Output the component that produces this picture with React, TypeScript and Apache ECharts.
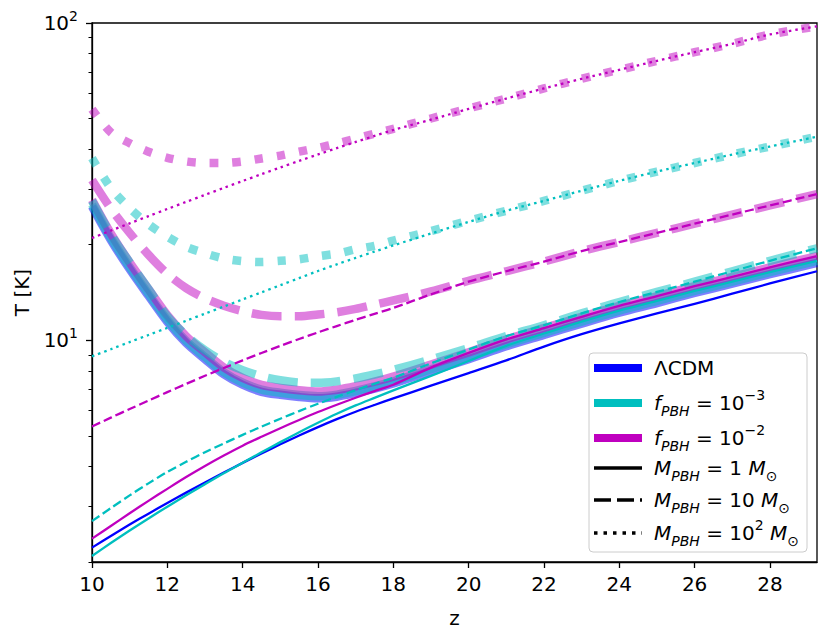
import React, { useEffect, useRef } from 'react';
import * as echarts from 'echarts';

// redshift grid
const zGrid = [10, 10.5, 11, 11.5, 12, 12.5, 13, 13.5, 14, 14.5, 15, 15.5, 16, 16.5, 17, 17.5, 18, 19, 20, 21, 22, 23, 24, 25, 26, 27, 28, 29.25];

// thick curves
const thickLCDM = [26.4, 20.7, 16.75, 13.8, 11.43, 9.8, 8.72, 7.81, 7.24, 6.88, 6.73, 6.62, 6.56, 6.64, 6.82, 7.04, 7.31, 7.98, 8.72, 9.57, 10.39, 11.28, 12.21, 13.1, 14.09, 15.07, 16.15, 17.53];
const thickF3M1 = [26.8, 21.0, 17.0, 14.0, 11.6, 9.95, 8.85, 7.93, 7.35, 6.99, 6.83, 6.72, 6.66, 6.74, 6.92, 7.15, 7.42, 8.1, 8.85, 9.72, 10.55, 11.45, 12.4, 13.3, 14.3, 15.3, 16.4, 17.8];
const thickF2M1 = [27.7, 21.7, 17.6, 14.5, 12.0, 10.3, 9.16, 8.21, 7.61, 7.23, 7.07, 6.96, 6.89, 6.98, 7.16, 7.4, 7.68, 8.38, 9.16, 10.06, 10.92, 11.85, 12.83, 13.77, 14.8, 15.84, 16.97, 18.42];
const thickF3M10 = [27.5, 21.6, 17.6, 14.5, 11.9, 10.35, 9.3, 8.55, 8.05, 7.7, 7.48, 7.36, 7.34, 7.42, 7.58, 7.8, 8.06, 8.7, 9.45, 10.3, 11.15, 12.15, 13.2, 14.2, 15.3, 16.5, 17.8, 19.5];
const thickF2M10 = [32.0, 26.0, 21.8, 18.6, 16.2, 14.6, 13.55, 12.85, 12.35, 12.02, 11.9, 11.9, 12.05, 12.25, 12.55, 12.95, 13.35, 14.25, 15.4, 16.5, 17.7, 19.1, 20.4, 21.8, 23.3, 24.9, 26.6, 28.9];
const thickF3M100 = [37.5, 30.2, 26.1, 23.2, 21.2, 19.7, 18.8, 18.1, 17.75, 17.65, 17.8, 18.0, 18.4, 18.75, 19.35, 19.85, 20.6, 22.1, 23.8, 25.6, 27.5, 29.6, 31.8, 34.0, 36.2, 38.5, 40.8, 43.8];
const thickF2M100 = [53.5, 45.2, 41.8, 39.3, 37.6, 36.6, 36.2, 36.2, 36.6, 37.4, 38.2, 39.3, 40.4, 41.7, 43.2, 44.8, 46.4, 50.0, 53.8, 57.8, 62.2, 66.7, 71.2, 76.0, 80.9, 86.0, 92.0, 97.6];

// thin curves
const thinLCDM = [2.22, 2.417, 2.624, 2.841, 3.068, 3.309, 3.562, 3.828, 4.107, 4.398, 4.699, 5.011, 5.325, 5.64, 5.952, 6.252, 6.555, 7.19, 7.88, 8.64, 9.55, 10.45, 11.3, 12.15, 13.02, 14.02, 15.1, 16.5];
const thinF3M1 = [2.09, 2.296, 2.514, 2.744, 2.988, 3.246, 3.519, 3.809, 4.107, 4.433, 4.774, 5.131, 5.495, 5.866, 6.232, 6.583, 6.948, 7.72, 8.6, 9.6, 10.5, 11.45, 12.4, 13.3, 14.3, 15.3, 16.4, 17.8];
const thinF2M1 = [2.37, 2.598, 2.849, 3.117, 3.401, 3.705, 4.015, 4.332, 4.653, 4.963, 5.281, 5.607, 5.939, 6.262, 6.588, 6.915, 7.24, 8.2, 9.12, 10.06, 10.92, 11.85, 12.83, 13.77, 14.8, 15.84, 16.97, 18.42];
const thinF3M10 = [2.69, 2.957, 3.243, 3.539, 3.845, 4.138, 4.435, 4.729, 5.032, 5.343, 5.659, 5.981, 6.306, 6.633, 6.962, 7.29, 7.616, 8.45, 9.35, 10.3, 11.15, 12.15, 13.2, 14.2, 15.3, 16.5, 17.8, 19.5];
const thinF2M10 = [5.35, 5.702, 6.069, 6.457, 6.861, 7.285, 7.725, 8.178, 8.643, 9.118, 9.601, 10.09, 10.585, 11.086, 11.595, 12.11, 12.64, 13.95, 15.3, 16.5, 17.7, 19.1, 20.4, 21.8, 23.3, 24.9, 26.6, 28.9];
const thinF3M100 = [8.9, 9.37, 9.87, 10.39, 10.94, 11.52, 12.13, 12.77, 13.45, 14.16, 14.91, 15.7, 16.53, 17.35, 18.18, 19.03, 19.9, 21.7, 23.6, 25.6, 27.5, 29.6, 31.8, 34.0, 36.2, 38.5, 40.8, 43.8];
const thinF2M100 = [21.0, 22.16, 23.36, 24.62, 25.93, 27.3, 28.73, 30.22, 31.77, 33.38, 35.05, 36.76, 38.52, 40.32, 42.17, 44.07, 46.0, 49.6, 53.6, 57.8, 62.2, 66.7, 71.2, 76.0, 80.9, 86.0, 92.0, 97.6];

// axis ticks
const xTicks = [10, 12, 14, 16, 18, 20, 22, 24, 26, 28];
const yMajor = [10, 100];
const yMinor = [2, 3, 4, 5, 6, 7, 8, 9, 20, 30, 40, 50, 60, 70, 80, 90];
const Y_MIN = 2;
const Y_MAX = 100;
const X_MIN = 10;
const X_MAX = 29.25;

const FONT = 'DejaVu Sans';
const BLUE = '#0000ff';
const CYAN = '#00bfbf';
const MAG = '#bf00bf';

const TW = 8.5;
const NW = 2.3;
const DASH_THICK = [30, 13];
const DOT_THICK = [8.5, 14];
const DASH_THIN = [9, 4];
const DOT_THIN = [2.5, 4];

function pairs(vals: number[]) {
  return zGrid.map((z, i) => [z, Math.log10(vals[i])]);
}

function line(name: string, vals: number[], color: string, width: number, type: any, opacity: number) {
  return {
    name,
    type: 'line',
    data: pairs(vals),
    showSymbol: false,
    symbol: 'none',
    smooth: 0.3,
    silent: true,
    lineStyle: { color, width, type, opacity, cap: 'butt', join: 'round' },
  };
}

const LEG_X = 589;
const LEG_Y = 353;
const rowY = [368, 403, 438, 468, 500, 533];
const legendTexts = [
  '{n|ΛCDM}',
  '{i|f}{s|PBH}{n| = 10}{p|−3}',
  '{i|f}{s|PBH}{n| = 10}{p|−2}',
  '{i|M}{s|PBH}{n| = 1 }{i|M}{s|⊙}',
  '{i|M}{s|PBH}{n| = 10 }{i|M}{s|⊙}',
  '{i|M}{s|PBH}{n| = 10}{p|2}{n| }{i|M}{s|⊙}',
];
const legendRich = {
  n: { fontSize: 20, fontFamily: FONT, lineHeight: 30, verticalAlign: 'middle', fill: '#000' },
  i: { fontSize: 20, fontFamily: FONT, fontStyle: 'italic', lineHeight: 30, verticalAlign: 'middle', fill: '#000' },
  s: { fontSize: 14, fontFamily: FONT, fontStyle: 'italic', lineHeight: 14, verticalAlign: 'bottom', fill: '#000' },
  p: { fontSize: 14, fontFamily: FONT, lineHeight: 14, verticalAlign: 'top', fill: '#000' },
};

function buildGraphic() {
  const els: any[] = [];
  els.push({
    type: 'rect',
    z: 100,
    shape: { x: LEG_X, y: LEG_Y, width: 218, height: 199, r: 4 },
    style: { fill: 'rgba(255,255,255,0.8)', stroke: '#cccccc', lineWidth: 1 },
  });
  const handles = [
    { color: BLUE, w: 8, dash: null },
    { color: CYAN, w: 8, dash: null },
    { color: MAG, w: 8, dash: null },
    { color: '#000', w: 3.5, dash: null },
    { color: '#000', w: 3.5, dash: [17, 6] },
    { color: '#000', w: 3.5, dash: [3.5, 6] },
  ];
  handles.forEach((h, k) => {
    els.push({
      type: 'line',
      z: 101,
      shape: { x1: 594, y1: rowY[k], x2: 642, y2: rowY[k] },
      style: { stroke: h.color, lineWidth: h.w, lineDash: h.dash || undefined, lineCap: 'butt' },
    });
    els.push({
      type: 'text',
      z: 101,
      x: 654,
      y: rowY[k],
      style: {
        text: legendTexts[k],
        rich: legendRich,
        fontSize: 20,
        fontFamily: FONT,
        fill: '#000',
        align: 'left',
        verticalAlign: 'middle',
      },
    });
  });
  return els;
}

export default function App() {
  const ref = useRef<HTMLDivElement>(null);
  useEffect(() => {
    const chart = echarts.init(ref.current!, undefined, { renderer: 'svg', width: 831, height: 639 });
    const series = [
      line('thickLCDM', thickLCDM, BLUE, TW, 'solid', 0.5),
      line('thickF3M1', thickF3M1, CYAN, TW, 'solid', 0.5),
      line('thickF2M1', thickF2M1, MAG, TW, 'solid', 0.5),
      line('thickF3M10', thickF3M10, CYAN, TW, DASH_THICK, 0.5),
      line('thickF2M10', thickF2M10, MAG, TW, DASH_THICK, 0.5),
      line('thickF3M100', thickF3M100, CYAN, TW, DOT_THICK, 0.5),
      line('thickF2M100', thickF2M100, MAG, TW, DOT_THICK, 0.5),
      line('thinLCDM', thinLCDM, BLUE, NW, 'solid', 1),
      line('thinF3M1', thinF3M1, CYAN, NW, 'solid', 1),
      line('thinF2M1', thinF2M1, MAG, NW, 'solid', 1),
      line('thinF3M10', thinF3M10, CYAN, NW, DASH_THIN, 1),
      line('thinF2M10', thinF2M10, MAG, NW, DASH_THIN, 1),
      line('thinF3M100', thinF3M100, CYAN, NW, DOT_THIN, 1),
      line('thinF2M100', thinF2M100, MAG, NW, DOT_THIN, 1),
    ];
    const yMin = Math.log10(Y_MIN);
    const yMax = Math.log10(Y_MAX);
    const option: any = {
      animation: false,
      backgroundColor: '#ffffff',
      textStyle: { fontFamily: FONT },
      grid: {
        left: 92, top: 23, width: 725, height: 539,
        show: true, borderColor: '#000', borderWidth: 1.3, backgroundColor: 'transparent',
      },
      xAxis: {
        type: 'value',
        min: X_MIN,
        max: X_MAX,
        interval: 2,
        name: 'z',
        nameLocation: 'middle',
        nameGap: 46,
        nameTextStyle: { fontSize: 20, fontFamily: FONT, color: '#000' },
        axisLine: { show: true, lineStyle: { color: '#000', width: 1.3 } },
        axisTick: { show: true, length: 6, inside: false, customValues: xTicks, lineStyle: { color: '#000', width: 1.3 } },
        axisLabel: { show: true, customValues: xTicks, fontSize: 20, fontFamily: FONT, color: '#000', margin: 12 },
        splitLine: { show: false },
      },
      yAxis: [
        {
          type: 'value',
          min: yMin,
          max: yMax,
          position: 'left',
          name: 'T [K]',
          nameLocation: 'middle',
          nameGap: 60,
          nameTextStyle: { fontSize: 20, fontFamily: FONT, color: '#000' },
          axisLine: { show: true, lineStyle: { color: '#000', width: 1.3 } },
          axisTick: { show: true, length: 6, inside: false, customValues: yMajor.map((v) => Math.log10(v)), lineStyle: { color: '#000', width: 1.3 } },
          axisLabel: {
            show: true,
            customValues: yMajor.map((v) => Math.log10(v)),
            margin: 14,
            formatter: (v: number) => '{b|10}{p|' + Math.round(v) + '}',
            rich: {
              b: { fontSize: 20, fontFamily: FONT, color: '#000', lineHeight: 28, verticalAlign: 'middle' },
              p: { fontSize: 14, fontFamily: FONT, color: '#000', lineHeight: 14, verticalAlign: 'top' },
            },
          },
          splitLine: { show: false },
        },
        {
          type: 'value',
          min: yMin,
          max: yMax,
          position: 'left',
          offset: 0,
          axisLine: { show: false },
          axisTick: { show: true, length: 3.5, inside: false, customValues: yMinor.map((v) => Math.log10(v)), lineStyle: { color: '#000', width: 1 } },
          axisLabel: { show: false },
          splitLine: { show: false },
        },
      ],
      series,
      graphic: { elements: buildGraphic() },
    };
    chart.setOption(option);
    return () => chart.dispose();
  }, []);
  return <div ref={ref} style={{ position: 'fixed', left: 0, top: 0, width: 831, height: 639, background: '#fff' }} />;
}
